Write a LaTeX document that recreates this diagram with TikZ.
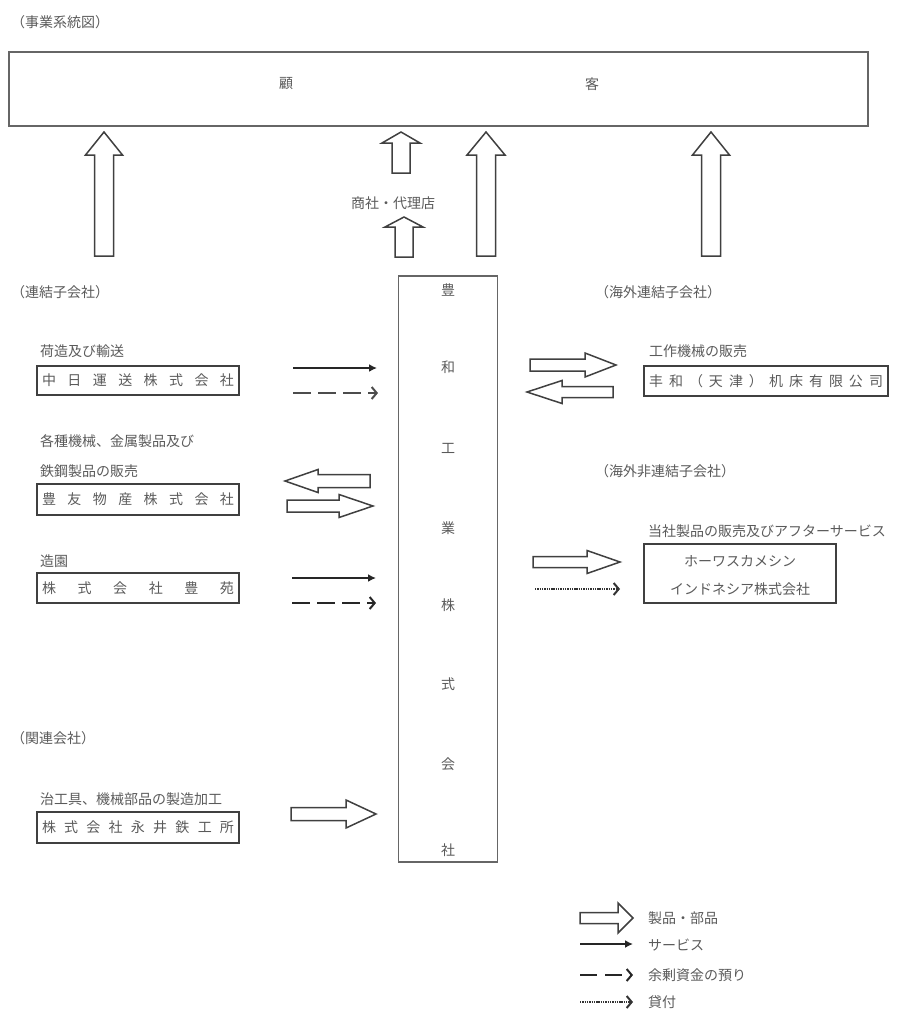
\documentclass[tikz,border=0pt]{standalone}
\usepackage{fontspec}
\setmainfont{Noto Sans CJK JP}
\usetikzlibrary{arrows.meta}
\definecolor{txt}{HTML}{5A5A5A}
\definecolor{ln}{HTML}{404040}
\newcommand\blkH[6]{% tailx tipx cy headbasex shafthalf headhalf
  \draw[blk] (#1,#3-#5) -- (#4,#3-#5) -- (#4,#3-#6) -- (#2,#3) -- (#4,#3+#6) -- (#4,#3+#5) -- (#1,#3+#5) -- cycle;}
\newcommand\blkV[6]{% cx tipy headbasey bottomy shafthalf headhalf
  \draw[blk] (#1-#5,#4) -- (#1-#5,#3) -- (#1-#6,#3) -- (#1,#2) -- (#1+#6,#3) -- (#1+#5,#3) -- (#1+#5,#4) -- cycle;}
\newcommand\spreadtxt[2]{\makebox[#1][s]{#2}}
\begin{document}
\begin{tikzpicture}[x=1pt,y=-1pt,
  every node/.style={text=txt, inner sep=0pt, font=\fontsize{14}{16}\selectfont},
  box/.style={draw=ln, line width=1.7pt},
  blk/.style={draw=ln, line width=1.5pt, fill=white, line join=miter},
  svc/.style={draw=black!85, line width=2.2pt, -{Latex[length=8pt,width=8pt]}},
  dep/.style={draw=black!70, line width=2.2pt, dash pattern=on 18pt off 7pt, -{Straight Barb[length=5pt,width=12pt,line width=2pt]}},
  lend/.style={draw=black!80, line width=2.2pt, dash pattern=on 1.4pt off 0.9pt, -{Straight Barb[length=5pt,width=12pt,line width=2pt]}},
  lab/.style={anchor=west}]
\useasboundingbox (0,0) rectangle (898,1012);

% title and customer
\node[lab] (title) at (11,22) {（事業系統図）};
\node[draw=black!60, line width=1.6pt, minimum width=859pt, minimum height=74pt] (cust) at (438.5,89) {};
\node (ko) at (286,84) {顧};
\node (kyaku) at (592,84) {客};

% up arrows
\blkV{104}{132}{155}{256}{9.5}{18.5}
\blkV{401}{132}{143}{173}{9}{19}
\node (agent) at (393,203) {商社・代理店};
\blkV{404}{217}{227}{257}{9}{19}
\blkV{486}{132}{155}{256}{9.5}{19}
\blkV{711}{132}{155}{256}{9.5}{18.5}

% central company
\node[box, draw=black!60, minimum width=99pt, minimum height=586pt] (howa) at (448,569) {};
\foreach \c/\y in {豊/290,和/367,工/448,業/528,株/605,式/684,会/764,社/850}
  \node at (448,\y) {\c};

% left group
\node[lab] (renketsu) at (11,292) {（連結子会社）};
\node[lab] (l1) at (40,351) {荷造及び輸送};
\node[box, minimum width=202pt, minimum height=29pt] (chunichi) at (138,380.5) {\spreadtxt{192pt}{中\hfill 日\hfill 運\hfill 送\hfill 株\hfill 式\hfill 会\hfill 社}};
\coordinate (a1s) at (293,368); \coordinate (a1e) at (377,368);
\draw[svc] (a1s) -- (a1e);
\coordinate (a2s) at (293,393); \coordinate (a2e) at (378,393);
\draw[dep] (a2s) -- (a2e);

\node[lab] (l2a) at (40,441) {各種機械、金属製品及び};
\node[lab] (l2b) at (40,471) {鉄鋼製品の販売};
\node[box, minimum width=202pt, minimum height=31pt] (hoyu) at (138,499.5) {\spreadtxt{192pt}{豊\hfill 友\hfill 物\hfill 産\hfill 株\hfill 式\hfill 会\hfill 社}};
\blkH{370}{285}{481}{318}{6.5}{11.5}
\blkH{287}{373}{506}{339}{6}{11.5}

\node[lab] (l3) at (40,561) {造園};
\node[box, minimum width=202pt, minimum height=30pt] (hoen) at (138,588) {\spreadtxt{192pt}{株\hfill 式\hfill 会\hfill 社\hfill 豊\hfill 苑}};
\coordinate (a3s) at (292,578); \coordinate (a3e) at (376,578);
\draw[svc] (a3s) -- (a3e);
\coordinate (a4s) at (292,603); \coordinate (a4e) at (376,603);
\draw[dep, draw=black!85] (a4s) -- (a4e);

\node[lab] (kanren) at (11,738) {（関連会社）};
\node[lab] (l4) at (40,799) {治工具、機械部品の製造加工};
\node[box, minimum width=202pt, minimum height=31pt] (nagai) at (138,827.5) {\spreadtxt{192pt}{株\hfill 式\hfill 会\hfill 社\hfill 永\hfill 井\hfill 鉄\hfill 工\hfill 所}};
\blkH{291}{376}{814}{346}{6.5}{14}

% right group
\node[lab] (kaigai) at (595,292) {（海外連結子会社）};
\node[lab] (r1) at (649,351) {工作機械の販売};
\node[box, minimum width=244pt, minimum height=30pt] (tianjin) at (766,381) {\spreadtxt{234pt}{丰\hfill 和\hfill （\hfill 天\hfill 津\hfill ）\hfill 机\hfill 床\hfill 有\hfill 限\hfill 公\hfill 司}};
\blkH{530}{616}{365}{585}{6}{12}
\blkH{613}{527}{392}{562}{5.5}{11.5}

\node[lab] (kaigaihi) at (595,471) {（海外非連結子会社）};
\node[lab] (r2) at (648,531) {当社製品の販売及びアフターサービス};
\node[box, minimum width=192pt, minimum height=59pt] (indo) at (740,573.5) {};
\node (indo1) at (740,561) {ホーワスカメシン};
\node (indo2) at (740,589) {インドネシア株式会社};
\blkH{533}{620}{562}{587}{5.5}{11.5}
\coordinate (a5s) at (535,589); \coordinate (a5e) at (620,589);
\draw[lend] (a5s) -- (a5e);

% legend
\blkH{580}{633}{918}{618}{5.5}{15}
\node[lab] (lg1) at (648,918) {製品・部品};
\coordinate (g2s) at (580,944); \coordinate (g2e) at (633,944);
\draw[svc] (g2s) -- (g2e);
\node[lab] (lg2) at (648,945) {サービス};
\coordinate (g3s) at (580,975); \coordinate (g3e) at (633,975);
\draw[dep, draw=black!85, dash pattern=on 17pt off 8pt] (g3s) -- (g3e);
\node[lab] (lg3) at (648,975) {余剰資金の預り};
\coordinate (g4s) at (580,1002); \coordinate (g4e) at (633,1002);
\draw[lend] (g4s) -- (g4e);
\node[lab] (lg4) at (648,1002) {貸付};
\end{tikzpicture}
\end{document}
